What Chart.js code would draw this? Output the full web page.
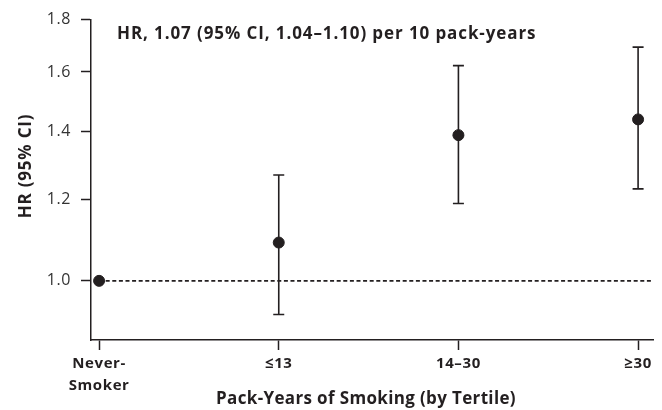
<!DOCTYPE html>
<html>
<head>
<meta charset="utf-8">
<script src="https://cdn.jsdelivr.net/npm/chart.js@4/dist/chart.umd.min.js"></script>
<style>
html,body{margin:0;padding:0;background:#fff;}
#wrap{width:662px;height:410px;position:relative;}
</style>
</head>
<body>
<div id="wrap"><canvas id="c" width="662" height="410"></canvas></div>
<script>
// ---- data ----
const categories = [["Never-", "Smoker"], "\u226413", "14\u201330", "\u226530"];
const hr = [1.00, 1.09, 1.388, 1.438];
const ciLower = [null, 0.927, 1.190, 1.230];
const ciUpper = [null, 1.269, 1.623, 1.692];
const yTicks = [1.0, 1.2, 1.4, 1.6, 1.8];
const refValue = 1.0;
const annotation = "HR, 1.07 (95% CI, 1.04\u20131.10) per 10 pack-years";
const xTitle = "Pack-Years of Smoking (by Tertile)";
const yTitle = "HR (95% CI)";

const FONT = "'Open Sans', 'Noto Sans', sans-serif";
const INK = "#231f20";

const points = hr.map((v, i) => ({x: i, y: v}));

const extras = {
  id: 'extras',
  beforeInit(chart) { chart.ctx.letterSpacing = '0.6px'; },
  beforeDraw(chart) { chart.ctx.letterSpacing = '0.6px'; },
  beforeDatasetsDraw(chart) {
    const {ctx, chartArea, scales: {x, y}} = chart;
    ctx.save();
    const ry = y.getPixelForValue(refValue);
    ctx.strokeStyle = INK;
    ctx.lineWidth = 1.8;
    ctx.setLineDash([4, 2.6]);
    ctx.beginPath();
    ctx.moveTo(x.getPixelForValue(0), ry);
    ctx.lineTo(chartArea.right, ry);
    ctx.stroke();
    ctx.setLineDash([]);
    ctx.lineWidth = 1.6;
    for (let i = 0; i < hr.length; i++) {
      if (ciLower[i] == null) continue;
      const px = x.getPixelForValue(i);
      const lo = y.getPixelForValue(ciLower[i]);
      const hi = y.getPixelForValue(ciUpper[i]);
      ctx.beginPath();
      ctx.moveTo(px, lo); ctx.lineTo(px, hi);
      ctx.moveTo(px - 5.5, lo); ctx.lineTo(px + 5.5, lo);
      ctx.moveTo(px - 5.5, hi); ctx.lineTo(px + 5.5, hi);
      ctx.stroke();
    }
    ctx.restore();
  },
  afterDraw(chart) {
    const {ctx} = chart;
    ctx.save();
    ctx.fillStyle = INK;
    ctx.textBaseline = 'alphabetic';
    ctx.font = "bold 17px " + FONT;
    ctx.letterSpacing = '0.9px';
    ctx.textAlign = 'left';
    ctx.fillText(annotation, 117, 39);
    ctx.letterSpacing = '0.35px';
    ctx.textAlign = 'center';
    ctx.fillText(xTitle, 366, 404);
    ctx.letterSpacing = '0.8px';
    ctx.translate(31, 166);
    ctx.rotate(-Math.PI / 2);
    ctx.fillText(yTitle, 0, 0);
    ctx.restore();
  }
};

new Chart(document.getElementById('c'), {
  type: 'scatter',
  data: {
    datasets: [{
      data: points,
      backgroundColor: INK,
      borderColor: INK,
      pointRadius: 5.5,
      pointHoverRadius: 5.5,
      showLine: false
    }]
  },
  options: {
    responsive: false,
    animation: false,
    layout: {padding: {top: 15, right: 9, left: 0, bottom: 0}},
    plugins: {legend: {display: false}, tooltip: {enabled: false}},
    scales: {
      x: {
        type: 'linear',
        min: -0.045,
        max: 3.083,
        afterBuildTicks(s) { s.ticks = categories.map((c, i) => ({value: i})); },
        afterFit(s) { s.height = 70; },
        grid: {drawOnChartArea: false, drawTicks: true, tickLength: 10, tickColor: INK, tickWidth: 1.5},
        border: {display: true, color: INK, width: 1.5},
        ticks: {
          autoSkip: false,
          maxRotation: 0,
          padding: 3,
          color: INK,
          font: {family: FONT, size: 15, weight: 'bold', lineHeight: 1.47},
          callback: (v) => categories[v]
        }
      },
      y: {
        type: 'logarithmic',
        min: 0.8754,
        max: 1.8,
        afterBuildTicks(s) { s.ticks = yTicks.map(v => ({value: v})); },
        afterFit(s) { s.width = 91; },
        grid: {drawOnChartArea: false, drawTicks: true, tickLength: 10, tickColor: INK, tickWidth: 1.5},
        border: {display: true, color: INK, width: 1.5},
        ticks: {
          padding: 10,
          color: '#333',
          font: {family: FONT, size: 16},
          callback: (v) => Number(v).toFixed(1)
        }
      }
    }
  },
  plugins: [extras]
});
</script>
</body>
</html>
